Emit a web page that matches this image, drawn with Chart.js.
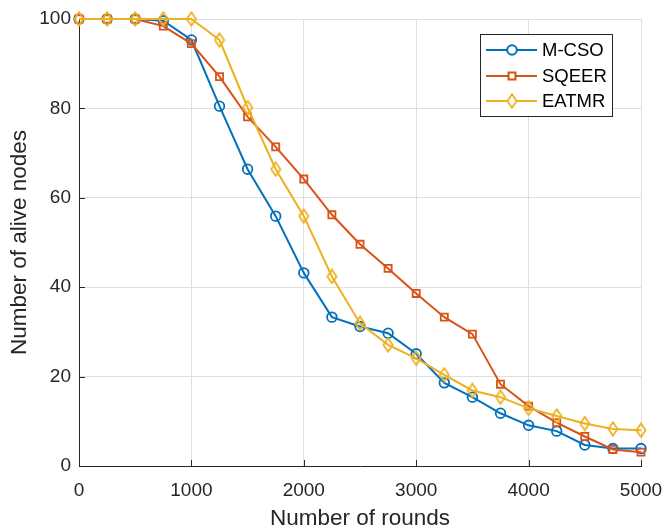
<!DOCTYPE html>
<html><head><meta charset="utf-8">
<script src="https://cdn.jsdelivr.net/npm/chart.js@4/dist/chart.umd.min.js"></script>
<style>html,body{margin:0;padding:0;background:#fff}canvas{display:block}</style>
</head><body>
<canvas id="c" width="667" height="529"></canvas>
<script>
const rounds = [0,250,500,750,1000,1250,1500,1750,2000,2250,2500,2750,3000,3250,3500,3750,4000,4250,4500,4750,5000];
const mcso  = [100,100,100,99.6,95.3,80.5,66.4,55.9,43.2,33.3,31.2,29.7,25.1,18.6,15.4,11.8,9.1,7.8,4.7,3.9,3.9];
const sqeer = [100,100,100,98.4,94.5,87.1,78.1,71.4,64.2,56.2,49.6,44.2,38.6,33.3,29.5,18.3,13.4,9.7,6.6,3.7,3.1];
const eatmr = [100,100,100,100,100,95.3,80.2,66.4,55.9,42.4,31.9,27.1,24.1,20.4,16.9,15.4,12.9,11.2,9.5,8.3,8.0];
const seriesNames = ['M-CSO','SQEER','EATMR'];
const xTicks = [0,1000,2000,3000,4000,5000];
const yTicks = [0,20,40,60,80,100];
const xTitle = 'Number of rounds';
const yTitle = 'Number of alive nodes';

const C_BLUE = '#0072BD', C_RED = '#D95319', C_YEL = '#EDB120';
const FONT = "'Liberation Sans', Arial, sans-serif";
const AX = '#262626';

function diamondImg(color){
  const c = document.createElement('canvas');
  c.width = 12; c.height = 16;
  const g = c.getContext('2d');
  g.strokeStyle = color; g.lineWidth = 1.8; g.lineJoin='miter';
  g.beginPath();
  g.moveTo(6,1.3); g.lineTo(10.6,8); g.lineTo(6,14.7); g.lineTo(1.4,8); g.closePath();
  g.stroke();
  return c;
}
const dia = diamondImg(C_YEL);

function pts(arr){ return rounds.map((r,i)=>({x:r,y:arr[i]})); }

const innerTicks = {
  id:'innerTicks',
  beforeDatasetsDraw(chart){
    const {ctx, chartArea:a, scales:{x,y}} = chart;
    ctx.save();
    ctx.strokeStyle = AX; ctx.lineWidth = 1;
    ctx.beginPath();
    xTicks.forEach(v=>{ const p=Math.round(x.getPixelForValue(v))+0.5; ctx.moveTo(p,a.bottom); ctx.lineTo(p,a.bottom-6); });
    yTicks.forEach(v=>{ const p=Math.round(y.getPixelForValue(v))+0.5; ctx.moveTo(a.left,p); ctx.lineTo(a.left+6,p); });
    ctx.stroke();
    ctx.restore();
  }
};

const boxLegend = {
  id:'boxLegend',
  afterDraw(chart){
    const ctx = chart.ctx;
    ctx.save();
    const bx=480.5, by=34.5, bw=132, bh=82;
    ctx.fillStyle='#fff'; ctx.fillRect(bx,by,bw,bh);
    ctx.strokeStyle=AX; ctx.lineWidth=1; ctx.strokeRect(bx,by,bw,bh);
    const rows=[50,76,101];
    const cols=[C_BLUE,C_RED,C_YEL];
    rows.forEach((ry,i)=>{
      ctx.strokeStyle=cols[i]; ctx.lineWidth=2;
      ctx.beginPath(); ctx.moveTo(486,ry); ctx.lineTo(537,ry); ctx.stroke();
      const mx=512;
      if(i===0){ ctx.beginPath(); ctx.arc(mx,ry,4.8,0,Math.PI*2); ctx.fillStyle='#fff'; ctx.fill(); ctx.stroke(); }
      else if(i===1){ ctx.fillStyle='#fff'; ctx.fillRect(mx-3.5,ry-3.5,7,7); ctx.strokeRect(mx-3.5,ry-3.5,7,7); }
      else { ctx.beginPath(); ctx.moveTo(mx,ry-6.7); ctx.lineTo(mx+4.6,ry); ctx.lineTo(mx,ry+6.7); ctx.lineTo(mx-4.6,ry); ctx.closePath(); ctx.fillStyle='#fff'; ctx.fill(); ctx.lineWidth=1.8; ctx.stroke(); }
      ctx.fillStyle='#000'; ctx.font='18.5px '+FONT; ctx.textBaseline='middle'; ctx.textAlign='left';
      ctx.fillText(seriesNames[i],542,ry+1);
    });
    ctx.restore();
  }
};

new Chart(document.getElementById('c'),{
  type:'line',
  data:{datasets:[
    {label:seriesNames[0],data:pts(mcso),borderColor:C_BLUE,backgroundColor:C_BLUE,borderWidth:2,pointStyle:'circle',pointRadius:4.8,pointBorderWidth:1.8,pointBackgroundColor:'rgba(0,0,0,0)',pointBorderColor:C_BLUE,tension:0,clip:false,order:2},
    {label:seriesNames[1],data:pts(sqeer),borderColor:C_RED,backgroundColor:C_RED,borderWidth:2,pointStyle:'rect',pointRadius:5,pointBorderWidth:1.8,pointBackgroundColor:'rgba(0,0,0,0)',pointBorderColor:C_RED,tension:0,clip:false,order:1},
    {label:seriesNames[2],data:pts(eatmr),borderColor:C_YEL,backgroundColor:C_YEL,borderWidth:2,pointStyle:dia,pointRadius:6,tension:0,clip:false,order:0}
  ]},
  options:{
    responsive:false, animation:false, devicePixelRatio:1,
    layout:{padding:{left:0,top:19,right:26,bottom:0}},
    plugins:{legend:{display:false},tooltip:{enabled:false}},
    scales:{
      x:{type:'linear',min:0,max:5000,
        afterBuildTicks(s){ s.ticks = xTicks.map(v=>({value:v})); },
        afterFit(s){ s.height=63; s.paddingLeft=0; s.paddingRight=0; },
        grid:{color:'#dfdfdf',lineWidth:1,drawTicks:false},
        border:{display:true,color:AX,width:1},
        ticks:{color:AX,font:{family:FONT,size:19},padding:13,maxRotation:0,autoSkip:false,callback:v=>String(v)},
        title:{display:true,text:xTitle,color:AX,font:{family:FONT,size:22.5},padding:{top:0,bottom:-3.5}}
      },
      y:{type:'linear',min:0,max:100,
        afterBuildTicks(s){ s.ticks = yTicks.map(v=>({value:v})); },
        afterFit(s){ s.width=79; s.paddingTop=0; s.paddingBottom=0; },
        grid:{color:'#dfdfdf',lineWidth:1,drawTicks:false},
        border:{display:true,color:AX,width:1},
        ticks:{color:AX,font:{family:FONT,size:19},padding:8,autoSkip:false,callback:v=>String(v)},
        title:{display:true,text:yTitle,color:AX,font:{family:FONT,size:22.5},padding:{top:6.5,bottom:0}}
      }
    }
  },
  plugins:[innerTicks,boxLegend]
});
</script>
</body></html>
